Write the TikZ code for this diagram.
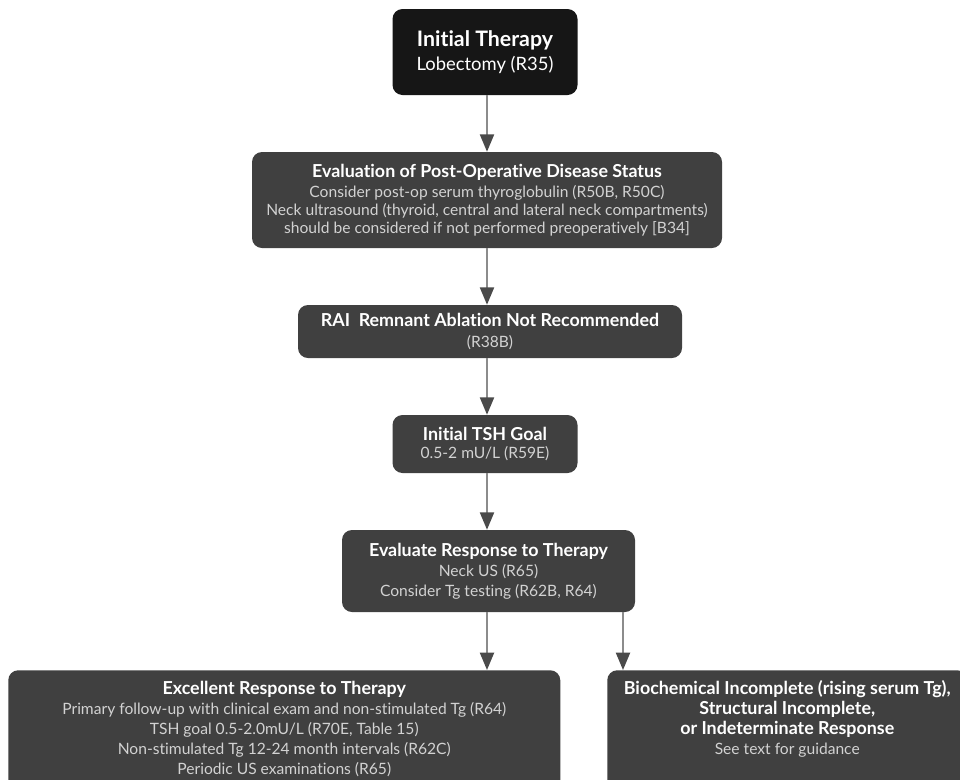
\documentclass[tikz,border=0pt]{standalone}
\usepackage{xcolor}
\definecolor{161616}{HTML}{161616}
\definecolor{404040}{HTML}{404040}
\definecolor{d2d2d2}{HTML}{D2D2D2}
\definecolor{8c8c8c}{HTML}{8C8C8C}
\definecolor{4a4a4a}{HTML}{4A4A4A}
\usepackage{fontspec}
\setmainfont{Lato}[Ligatures=NoCommon]
\usepackage{tikz}
\usetikzlibrary{arrows.meta}

\newcommand{\hd}[1]{{\color{white}\bfseries\fontsize{13.4}{15}\selectfont #1}}

\tikzset{
    box/.style={fill=404040, rounded corners=7.5pt, align=center, inner sep=4pt,
        text=d2d2d2, font=\fontsize{11.7}{13.6}\selectfont},
    arr/.style={draw=8c8c8c, line width=1.5pt, -{Triangle[length=13pt, width=10.5pt, color=4a4a4a]}}
}

\begin{document}
\begin{tikzpicture}[x=0.75pt, y=-0.75pt]
            \clip (0, 0) rectangle (960, 779);
            \fill[white] (0, 0) rectangle (960, 779);

            \coordinate (col) at (487, 0);
            \coordinate (col2) at (623, 0);

            \node[box, fill=161616, minimum width=138.75pt, minimum height=64.5pt, text=white] (init) at (485, 52)
                {{\bfseries\fontsize{16}{18}\selectfont Initial Therapy}\\[4pt] {\fontsize{13.8}{16}\selectfont Lobectomy (R35)}};
            \node[box, minimum width=352.5pt, minimum height=72pt] (eval) at (487, 200)
                {\hd{Evaluation of Post-Operative Disease Status}\\[1.5pt] Consider post-op serum thyroglobulin (R50B, R50C)\\
                 Neck ultrasound (thyroid, central and lateral neck compartments)\\ should be considered if not performed preoperatively [B34]};
            \node[box, minimum width=288pt, minimum height=39.75pt] (rai) at (490, 331.5)
                {\hd{RAI\ \ Remnant Ablation Not Recommended}\\[2pt] (R38B)};
            \node[box, minimum width=138.75pt, minimum height=43.5pt] (tsh) at (485, 444)
                {\hd{Initial TSH Goal}\\ 0.5-2 mU/L (R59E)};
            \node[box, minimum width=219.75pt, minimum height=61.5pt, font=\fontsize{11.7}{15}\selectfont] (resp) at (488.5, 571)
                {\hd{Evaluate Response to Therapy}\\ Neck US (R65)\\ Consider Tg testing (R62B, R64)};

            \node[box, anchor=north west, minimum width=414pt, inner ysep=8pt, text depth=12pt, font=\fontsize{11.7}{15}\selectfont] (exc) at (8, 670)
                {\hd{Excellent Response to Therapy}\\ Primary follow-up with clinical exam and non-stimulated Tg (R64)\\
                 TSH goal 0.5-2.0mU/L (R70E, Table 15)\\ Non-stimulated Tg 12-24 month intervals (R62C)\\ Periodic US examinations (R65)};
            \node[box, anchor=north west, minimum width=270pt, inner ysep=8pt, text depth=40pt, font=\fontsize{11.7}{15}\selectfont] (inc) at (607, 670)
                {\hd{Biochemical Incomplete (rising serum Tg),}\\ \hd{Structural Incomplete,}\\ \hd{or Indeterminate Response}\\ See text for guidance};

            \draw[arr] (init.south -| col) to (eval.north -| col);
            \draw[arr] (eval.south -| col) to (rai.north -| col);
            \draw[arr] (rai.south -| col) to (tsh.north -| col);
            \draw[arr] (tsh.south -| col) to (resp.north -| col);
            \draw[arr] (resp.south -| col) to (exc.north -| col);
            \draw[arr] (resp.south -| col2) to (inc.north -| col2);
        \end{tikzpicture}
\end{document}
